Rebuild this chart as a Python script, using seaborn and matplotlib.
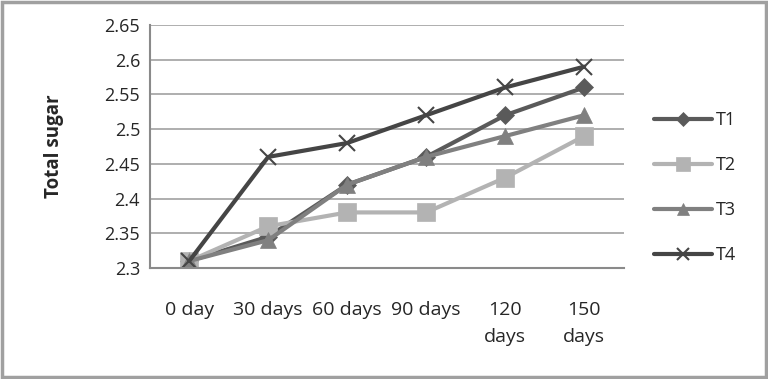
import pandas as pd
import matplotlib.pyplot as plt
import seaborn as sns
from matplotlib.patches import Rectangle

# Data
days = ["0 day", "30 days", "60 days", "90 days", "120\ndays", "150\ndays"]
t1 = [2.31, 2.345, 2.42, 2.46, 2.52, 2.56]
t2 = [2.31, 2.36, 2.38, 2.38, 2.43, 2.49]
t3 = [2.31, 2.34, 2.42, 2.46, 2.49, 2.52]
t4 = [2.31, 2.46, 2.48, 2.52, 2.56, 2.59]

series = {"T1": t1, "T2": t2, "T3": t3, "T4": t4}
rows = []
for name, vals in series.items():
    for i, v in enumerate(vals):
        rows.append({"pos": i, "Treatment": name, "Total sugar": v})
df = pd.DataFrame(rows)

sns.set_style("white")
plt.rcParams['font.family'] = ['Open Sans', 'DejaVu Sans']

palette = {"T1": "#5a5a5a", "T2": "#b3b3b3", "T3": "#808080", "T4": "#454545"}
markers = {"T1": "D", "T2": "s", "T3": "^", "T4": "x"}
sizes = {"T1": 9, "T2": 13, "T3": 12, "T4": 12}

fig = plt.figure(figsize=(7.68, 3.79), dpi=100)
ax = fig.add_axes([0.195, 0.293, 0.617, 0.641])

for name in series:
    sub = df[df["Treatment"] == name]
    sns.lineplot(data=sub, x="pos", y="Total sugar", ax=ax, color=palette[name],
                 marker=markers[name], markersize=sizes[name], linewidth=3,
                 markeredgewidth=1.5 if name == "T4" else 0.5,
                 markeredgecolor=palette[name], label=name)

ax.set_xlim(-0.5, 5.5)
ax.set_ylim(2.3, 2.65)
ax.set_yticks([2.3, 2.35, 2.4, 2.45, 2.5, 2.55, 2.6, 2.65])
ax.set_yticklabels(["2.3", "2.35", "2.4", "2.45", "2.5", "2.55", "2.6", "2.65"], fontsize=13)
ax.set_xticks(range(len(days)))
ax.set_xticklabels(days, fontsize=14, va="top", linespacing=1.6)
ax.tick_params(axis="y", length=0, pad=7)
ax.tick_params(axis="x", length=0, pad=24)
ax.yaxis.grid(True, color="#a8a8a8", linewidth=1.3)
ax.set_axisbelow(True)
for s in ["top", "right"]:
    ax.spines[s].set_visible(False)
for s in ["bottom", "left"]:
    ax.spines[s].set_color("#8a8a8a")
    ax.spines[s].set_linewidth(1.5)
ax.set_xlabel("")
ax.set_ylabel("Total sugar", fontsize=13.5, fontweight="bold", labelpad=29)

ax.legend(loc="center left", bbox_to_anchor=(1.03, 0.33), frameon=False,
          fontsize=13, handlelength=3.2, labelspacing=1.5, handletextpad=0.2,
          markerscale=0.75)

fig.patches.append(Rectangle((0.003, 0.005), 0.994, 0.99, transform=fig.transFigure,
                             fill=False, edgecolor="#a0a0a0", linewidth=2.5))

fig.savefig("out.png", dpi=100)
